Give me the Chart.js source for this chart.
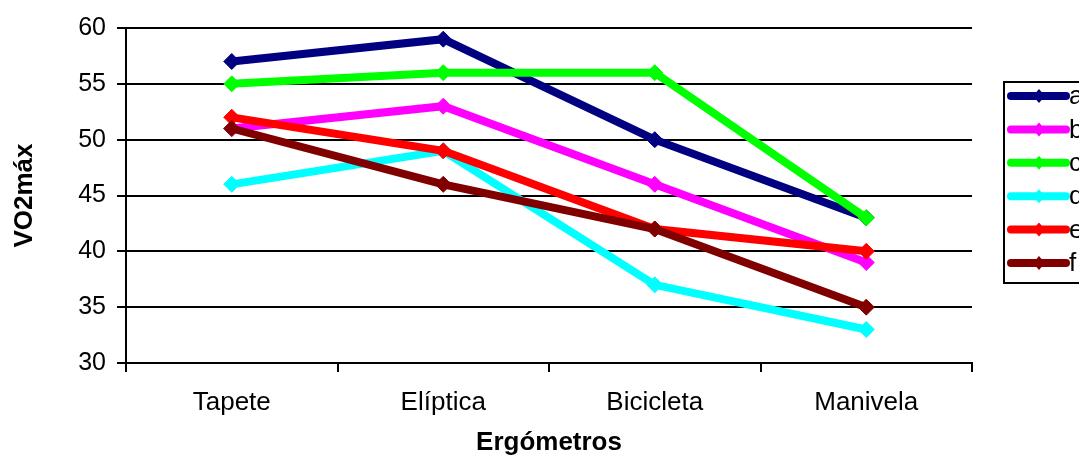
<!DOCTYPE html>
<html>
<head>
<meta charset="utf-8">
<script src="https://cdn.jsdelivr.net/npm/chart.js@4.4.1/dist/chart.umd.min.js"></script>
<style>
  html, body { margin: 0; padding: 0; background: #fff; }
  #wrap { width: 1079px; height: 458px; position: relative; }
</style>
</head>
<body>
<div id="wrap"><canvas id="c" width="1079" height="458"></canvas></div>
<script>
const categories = ["Tapete", "Elíptica", "Bicicleta", "Manivela"];
const seriesNames = ["a", "b", "c", "d", "e", "f"];
const seriesA = [57, 59, 50, 43];
const seriesB = [51, 53, 46, 39];
const seriesC = [55, 56, 56, 43];
const seriesD = [46, 49, 37, 33];
const seriesE = [52, 49, 42, 40];
const seriesF = [51, 46, 42, 35];
const seriesColors = ["#000080", "#FF00FF", "#00FF00", "#00FFFF", "#FF0000", "#800000"];
const yMin = 30, yMax = 60, yStep = 5;
const xTitle = "Ergómetros";
const yTitle = "VO2máx";

const allSeries = [seriesA, seriesB, seriesC, seriesD, seriesE, seriesF];
const FONT = "'Liberation Sans', Arial, sans-serif";

const datasets = allSeries.map((vals, i) => ({
  label: seriesNames[i],
  data: vals,
  borderColor: seriesColors[i],
  backgroundColor: seriesColors[i],
  pointBackgroundColor: seriesColors[i],
  pointBorderColor: seriesColors[i],
  borderWidth: 8,
  pointStyle: 'rectRot',
  pointRadius: 8,
  pointBorderWidth: 1,
  pointHoverRadius: 8,
  tension: 0,
  fill: false,
  order: allSeries.length - i
}));

const legendBox = {
  id: 'legendBox',
  afterDraw(chart) {
    const ctx = chart.ctx;
    ctx.save();
    ctx.strokeStyle = '#000';
    ctx.lineWidth = 2;
    ctx.strokeRect(1004, 82, 120, 201);
    chart.data.datasets.forEach((ds, i) => {
      const y = 96 + i * 33.4;
      ctx.strokeStyle = ds.borderColor;
      ctx.lineWidth = 8;
      ctx.lineCap = 'round';
      ctx.beginPath();
      ctx.moveTo(1011, y);
      ctx.lineTo(1066, y);
      ctx.stroke();
      ctx.fillStyle = ds.borderColor;
      ctx.beginPath();
      ctx.moveTo(1039 - 6, y);
      ctx.lineTo(1039, y - 7);
      ctx.lineTo(1039 + 6, y);
      ctx.lineTo(1039, y + 7);
      ctx.closePath();
      ctx.fill();
      ctx.fillStyle = '#000';
      ctx.font = '26px ' + FONT;
      ctx.textBaseline = 'middle';
      ctx.textAlign = 'left';
      ctx.fillText(ds.label, 1069, y + 1);
    });
    ctx.restore();
  }
};

new Chart(document.getElementById('c'), {
  type: 'line',
  data: { labels: categories, datasets },
  options: {
    responsive: false,
    animation: false,
    devicePixelRatio: 1,
    layout: { padding: { left: 0, right: 107, top: 28, bottom: 0 } },
    plugins: {
      legend: { display: false },
      tooltip: { enabled: false }
    },
    scales: {
      x: {
        type: 'category',
        offset: true,
        grid: {
          offset: true,
          drawOnChartArea: false,
          drawTicks: true,
          tickLength: 9,
          color: '#000',
          lineWidth: 2
        },
        border: { display: true, color: '#000', width: 2 },
        ticks: {
          color: '#000',
          font: { family: FONT, size: 26 },
          padding: 15,
          maxRotation: 0
        },
        title: {
          display: true,
          text: xTitle,
          color: '#000',
          font: { family: FONT, size: 26, weight: 'bold' },
          padding: { top: 6, bottom: 0 }
        },
        afterFit(scale) { scale.height = 95; }
      },
      y: {
        min: yMin,
        max: yMax,
        ticks: {
          stepSize: yStep,
          color: '#000',
          font: { family: FONT, size: 25 },
          padding: 11
        },
        grid: {
          color: '#000',
          lineWidth: 2,
          tickLength: 9,
          drawTicks: true
        },
        border: { display: true, color: '#000', width: 2 },
        title: {
          display: true,
          text: yTitle,
          color: '#000',
          font: { family: FONT, size: 26, weight: 'bold' },
          padding: { top: 9, bottom: 0 }
        },
        afterFit(scale) { scale.width = 126; }
      }
    }
  },
  plugins: [legendBox]
});
</script>
</body>
</html>
